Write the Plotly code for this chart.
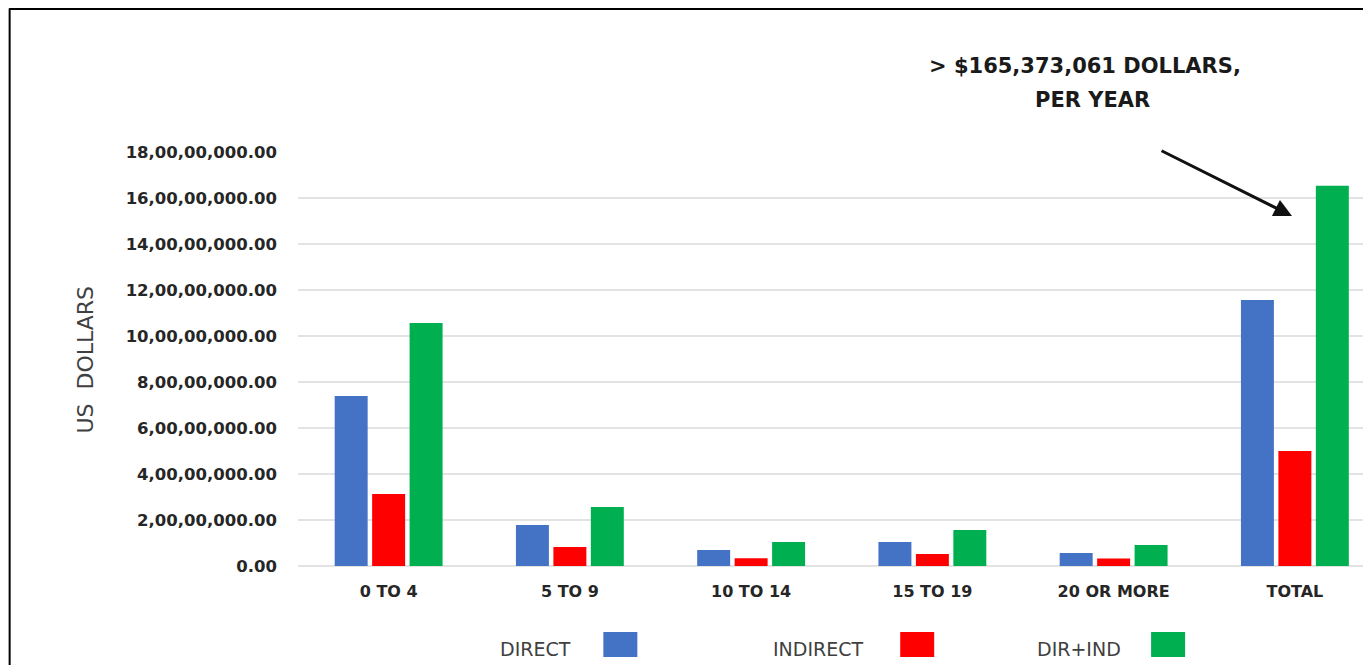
import plotly.graph_objects as go

categories = ["0 TO 4", "5 TO 9", "10 TO 14", "15 TO 19", "20 OR MORE", "TOTAL"]
direct = [73900000, 17800000, 7000000, 10400000, 5700000, 115700000]
indirect = [31300000, 8300000, 3400000, 5200000, 3300000, 50000000]
dir_ind = [105700000, 25700000, 10400000, 15700000, 9100000, 165373061]
tick_vals = [0, 20000000, 40000000, 60000000, 80000000, 100000000, 120000000, 140000000, 160000000, 180000000]
tick_text = ["0.00", "2,00,00,000.00", "4,00,00,000.00", "6,00,00,000.00", "8,00,00,000.00",
             "10,00,00,000.00", "12,00,00,000.00", "14,00,00,000.00", "16,00,00,000.00", "18,00,00,000.00"]
series_names = ["DIRECT", "INDIRECT", "DIR+IND"]
colors = ["#4472C4", "#FF0000", "#00B050"]

OFF = 8  # page body margin
W, H = 1371 - OFF, 665 - OFF
L, R, T, B = 297.5 - OFF, 0, 152 - OFF, 665 - 566
pw = W - L - R
ph = H - T - B

def px_x(x):
    return (x - OFF - L) / pw

def px_y(y):
    return (H - B - (y - OFF)) / ph

fig = go.Figure()
for name, vals, col in zip(series_names, [direct, indirect, dir_ind], colors):
    fig.add_trace(go.Bar(x=categories, y=vals, name=name, marker_color=col,
                         marker_line_width=0, showlegend=False))

font_main = "'DejaVu Sans', sans-serif"

annotations = [
    dict(text="<b>&gt; $165,373,061 DOLLARS,</b>", x=px_x(1085), y=px_y(66),
         xref="paper", yref="paper", showarrow=False, xanchor="center", yanchor="middle",
         font=dict(family=font_main, size=21, color="#1a1a1a")),
    dict(text="<b>PER YEAR</b>", x=px_x(1092), y=px_y(100),
         xref="paper", yref="paper", showarrow=False, xanchor="center", yanchor="middle",
         font=dict(family=font_main, size=21, color="#1a1a1a")),
    dict(text="", x=px_x(1292), y=px_y(216), xref="paper", yref="paper", showarrow=True,
         ax=-132, ay=-66, arrowhead=2, arrowsize=1.2, arrowwidth=3, arrowcolor="#111111"),
    dict(text="US  DOLLARS", x=px_x(84), y=px_y(360), xref="paper", yref="paper",
         showarrow=False, textangle=-90, xanchor="center", yanchor="middle",
         font=dict(family=font_main, size=22, color="#404040")),
]

legend_text_right = [573, 866, 1123]
legend_sq_left = [603, 900, 1151]
shapes = []
for name, col, tr, sl in zip(series_names, colors, legend_text_right, legend_sq_left):
    annotations.append(dict(text=name, x=px_x(tr), y=px_y(649), xref="paper", yref="paper",
                            showarrow=False, xanchor="right", yanchor="middle",
                            font=dict(family=font_main, size=19, color="#404040")))
    shapes.append(dict(type="rect", xref="paper", yref="paper", x0=px_x(sl), x1=px_x(sl + 34),
                       y0=px_y(657), y1=px_y(632), fillcolor=col, line_width=0))

# outer frame lines (top and left)
shapes.append(dict(type="line", xref="paper", yref="paper", x0=px_x(8.5), x1=px_x(1380),
                   y0=px_y(9), y1=px_y(9), line=dict(color="black", width=2)))
shapes.append(dict(type="line", xref="paper", yref="paper", x0=px_x(9), x1=px_x(9),
                   y0=px_y(8.5), y1=px_y(680), line=dict(color="black", width=2)))

fig.update_layout(
    width=W, height=H,
    margin=dict(l=L, r=R, t=T, b=B, pad=0),
    paper_bgcolor="white", plot_bgcolor="white",
    barmode="group", bargap=0.38, bargroupgap=0.12,
    annotations=annotations, shapes=shapes,
    font=dict(family=font_main),
)
fig.update_xaxes(range=[-0.5, 5.42], showgrid=False, showline=False, ticks="",
                 tickfont=dict(family=font_main, size=16, color="#262626", weight="bold"),
                 ticklabelstandoff=14)
fig.update_yaxes(range=[0, 180000000], tickvals=tick_vals, ticktext=tick_text,
                 showgrid=True, gridcolor="#E3E3E3", gridwidth=2, zeroline=True,
                 zerolinecolor="#E3E3E3", zerolinewidth=2, showline=False, ticks="",
                 tickfont=dict(family=font_main, size=16.5, color="#262626", weight="bold"),
                 ticklabelstandoff=20)

fig.write_html("out.html")
